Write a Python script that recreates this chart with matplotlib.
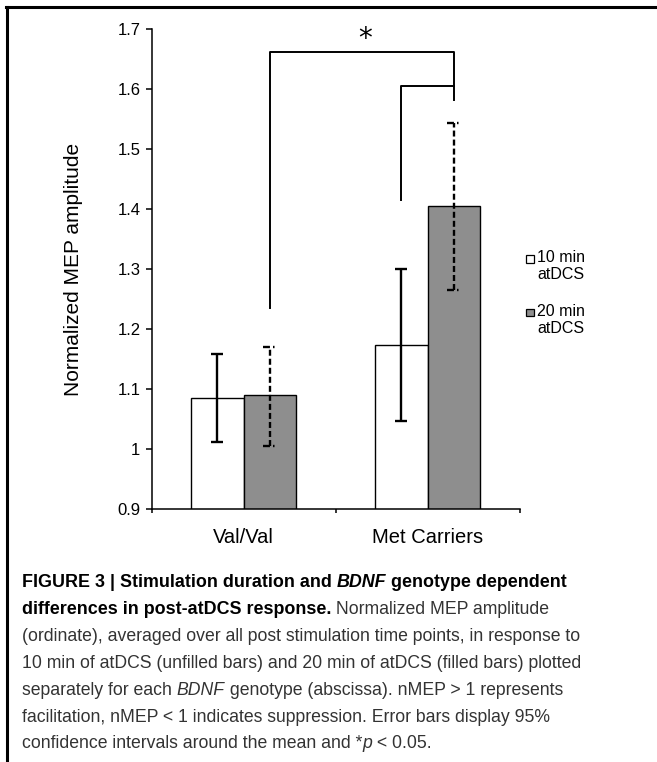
import numpy as np
import matplotlib.pyplot as plt
from matplotlib.lines import Line2D
from matplotlib.patches import Rectangle

plt.rcParams["font.family"] = ["Liberation Sans", "DejaVu Sans"]
plt.rcParams["lines.scale_dashes"] = False

# -------------------------
# Data
# -------------------------
categories = ["Val/Val", "Met Carriers"]
mep_10min = [1.085, 1.173]
mep_20min = [1.090, 1.405]
ci_10min_low = [1.012, 1.047]
ci_10min_high = [1.158, 1.300]
ci_20min_low = [1.005, 1.265]
ci_20min_high = [1.170, 1.543]
y_ticks = [0.9, 1.0, 1.1, 1.2, 1.3, 1.4, 1.5, 1.6, 1.7]
y_tick_labels = ["0.9", "1", "1.1", "1.2", "1.3", "1.4", "1.5", "1.6", "1.7"]
legend_labels = ["10 min\natDCS", "20 min\natDCS"]

W, H = 657, 762


def fx(px):
    return px / W


def fy(py):
    return 1 - py / H


fig = plt.figure(figsize=(W / 100, H / 100), dpi=100)
ax = fig.add_axes([fx(151.5), fy(509), 368 / W, 480 / H])

x = np.arange(len(categories))
bw = 0.285
gray = "#8e8e8e"

ax.bar(x - bw / 2, mep_10min, width=bw, color="white", edgecolor="black", linewidth=1.0, zorder=2)
ax.bar(x + bw / 2, mep_20min, width=bw, color=gray, edgecolor="black", linewidth=1.0, zorder=2)

# error bars: 10 min solid
m10 = np.array(mep_10min)
err10 = [m10 - np.array(ci_10min_low), np.array(ci_10min_high) - m10]
ax.errorbar(x - bw / 2, m10, yerr=err10, fmt="none", ecolor="black", elinewidth=1.7,
            capsize=4.3, capthick=1.7, zorder=3)

# error bars: 20 min dashed
cap = 0.034
ax.vlines(x + bw / 2, ci_20min_low, ci_20min_high, colors="black", linewidth=1.7,
          linestyles=(0, (4.3, 2.2)), zorder=3)
ax.hlines(ci_20min_low, x + bw / 2 - cap, x + bw / 2 + cap, colors="black", linewidth=1.7,
          linestyles=(0, (5, 2.2, 1.1, 20)), zorder=3)
ax.hlines(ci_20min_high, x + bw / 2 - cap, x + bw / 2 + cap, colors="black", linewidth=1.7,
          linestyles=(0, (5, 2.2, 1.1, 20)), zorder=3)

# significance brackets
kw = dict(color="black", linewidth=1.4, zorder=3, clip_on=False)
ax.plot([x[0] + bw / 2, x[0] + bw / 2, x[1] + bw / 2, x[1] + bw / 2],
        [1.235, 1.662, 1.662, 1.582], **kw)
ax.plot([x[1] - bw / 2, x[1] - bw / 2, x[1] + bw / 2],
        [1.415, 1.605, 1.605], **kw)
ax.text(0.66, 1.684, "*", ha="center", va="center", fontsize=20, fontfamily="DejaVu Sans")

# axes styling
ax.set_xlim(-0.5, 1.5)
ax.set_ylim(0.9, 1.7)
ax.spines["top"].set_visible(False)
ax.spines["right"].set_visible(False)
ax.spines["left"].set_linewidth(1.1)
ax.spines["bottom"].set_linewidth(1.1)
ax.set_yticks(y_ticks)
ax.set_yticklabels(y_tick_labels, fontsize=12)
ax.tick_params(axis="y", direction="out", length=4, width=1.1, pad=4)
ax.set_xticks([-0.5, 0.5, 1.5])
ax.set_xticklabels([])
ax.tick_params(axis="x", which="major", direction="out", length=3, width=1.1)
ax.set_xticks(x, minor=True)
ax.set_xticklabels(categories, minor=True, fontsize=14.5)
ax.tick_params(axis="x", which="minor", length=0, pad=14)
ax.set_ylabel("Normalized MEP amplitude", fontsize=15)
ax.yaxis.set_label_coords(-0.186, 0.5)

# legend (drawn by hand, Excel style)
for i, (lab, fc) in enumerate(zip(legend_labels, ["white", gray])):
    top = 255 + i * 54
    fig.add_artist(Rectangle((fx(526), fy(top + 7.5)), 7.5 / W, 7.5 / H, transform=fig.transFigure,
                             facecolor=fc, edgecolor="black", linewidth=0.9))
    fig.text(fx(537), fy(top - 5), lab, fontsize=11.5, va="top", ha="left", linespacing=1.2)

# frame lines
fig.add_artist(Line2D([fx(6), 1], [fy(6.5), fy(6.5)], color="black", linewidth=2.2,
                      transform=fig.transFigure))
fig.add_artist(Line2D([fx(7), fx(7)], [fy(6.5), 0], color="black", linewidth=2.2,
                      transform=fig.transFigure))

# caption with mixed styles
renderer = fig.canvas.get_renderer()
cap_sizes = {"bold": 12.9, "normal": 12.7}
txt_col = "#333333"


def run_width(s, weight, style):
    fs = cap_sizes[weight]
    t1 = fig.text(0, 0, "|" + s + "|", fontsize=fs, weight=weight, style=style)
    t2 = fig.text(0, 0, "||", fontsize=fs, weight=weight, style=style)
    w = t1.get_window_extent(renderer).width - t2.get_window_extent(renderer).width
    t1.remove()
    t2.remove()
    return w


caption = [
    [("FIGURE 3 | Stimulation duration and ", "bold", "normal"), ("BDNF", "bold", "italic"),
     (" genotype dependent", "bold", "normal")],
    [("differences in post-atDCS response.", "bold", "normal"),
     (" Normalized MEP amplitude", "normal", "normal")],
    [("(ordinate), averaged over all post stimulation time points, in response to", "normal", "normal")],
    [("10 min of atDCS (unfilled bars) and 20 min of atDCS (filled bars) plotted", "normal", "normal")],
    [("separately for each ", "normal", "normal"), ("BDNF", "normal", "italic"),
     (" genotype (abscissa). nMEP > 1 represents", "normal", "normal")],
    [("facilitation, nMEP < 1 indicates suppression. Error bars display 95%", "normal", "normal")],
    [("confidence intervals around the mean and *", "normal", "normal"), ("p", "normal", "italic"),
     (" < 0.05.", "normal", "normal")],
]

for li, line in enumerate(caption):
    ypx = 587 + li * 26.9
    xpx = 22
    for s, weight, style in line:
        col = "black" if weight == "bold" else txt_col
        fig.text(fx(xpx), fy(ypx), s, fontsize=cap_sizes[weight], weight=weight, style=style,
                 color=col, va="baseline", ha="left")
        xpx += run_width(s, weight, style)

fig.savefig("out.png", dpi=100)
